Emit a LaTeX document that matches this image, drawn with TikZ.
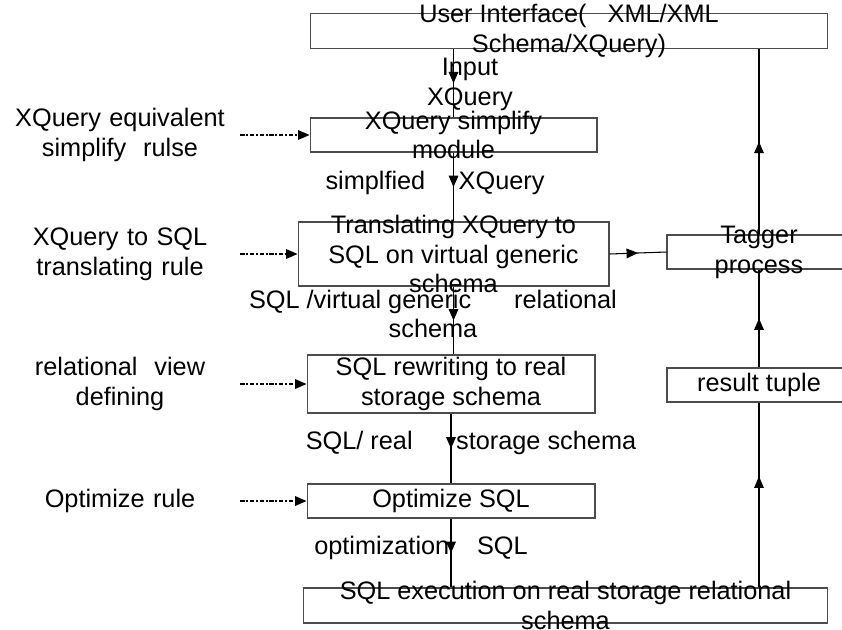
\documentclass[tikz,border=0pt]{standalone}
\usepackage{fontspec}
\setmainfont{Liberation Sans}
\usetikzlibrary{arrows.meta}
\usetikzlibrary{decorations.markings}

\begin{document}
\begin{tikzpicture}[x=0.02cm, y=-0.02cm,
  box/.style={draw=black!70, line width=0.6pt, inner sep=0pt},
  txt/.style={align=center, inner sep=0pt, font=\fontsize{14.4}{17}\selectfont},
  midarrow/.style={postaction={decorate}, decoration={markings,
    mark=at position #1 with {\arrow{Triangle[length=6.5pt,width=5.5pt]}}}},
  midarrow/.default=0.5,
  flow/.style={draw=black, line width=0.6pt},
  rulearrow/.style={draw=black, line width=0.6pt,
    dash pattern=on 2.5pt off 1pt on 1pt off 1pt,
    -{Triangle[length=6.5pt,width=5.5pt]}}]
\clip (0,0) rectangle (842,629);
% Boxes
\node[box, minimum width=10.36cm, minimum height=0.70cm] (ui) at (569,31) {};
\node[box, minimum width=5.74cm, minimum height=0.68cm] (simp) at (453.5,135) {};
\node[box, minimum width=6.22cm, minimum height=1.28cm] (trans) at (453.5,254) {};
\node[box, minimum width=5.76cm, minimum height=1.16cm] (rewr) at (451,384) {};
\node[box, minimum width=5.76cm, minimum height=0.68cm] (opt) at (451,501) {};
\node[box, minimum width=10.5cm, minimum height=0.70cm] (exec) at (565.5,605.5) {};
\node[box, minimum width=3.68cm, minimum height=0.68cm] (tag) at (759,252) {};
\node[box, minimum width=3.68cm, minimum height=0.68cm] (res) at (759,385) {};
% Box texts
\node[txt] (ui-t) at (ui) {User Interface(\ \ \ XML/XML\\Schema/XQuery)};
\node[txt] (simp-t) at (simp) {XQuery simplify\\module};
\node[txt] (trans-t) at (trans) {Translating XQuery to\\SQL on virtual generic\\schema};
\node[txt] (rewr-t) at (rewr) {SQL rewriting to real\\storage schema};
\node[txt] (opt-t) at (opt) {Optimize SQL};
\node[txt] (exec-t) at (exec) {SQL execution on real storage relational\\schema};
\node[txt] (tag-t) at (tag) {Tagger\\process};
\node[txt] (res-t) at (res) {result tuple};
% Rules
\node[txt, text width=4.8cm] (r1) at (120,135) {XQuery equivalent\\simplify\ \ rulse};
\node[txt, text width=4.8cm] (r2) at (120,254) {XQuery to SQL\\translating rule};
\node[txt, text width=4.8cm] (r3) at (120,384) {relational\ \ view\\defining};
\node[txt, text width=4.8cm] (r4) at (120,501) {Optimize rule};
\draw[rulearrow] (r1.east) -- (simp.west);
\draw[rulearrow] (r2.east) -- (trans.west);
\draw[rulearrow] (r3.east) -- (rewr.west);
\draw[rulearrow] (r4.east) -- (opt.west);
% Flow labels
\node[txt] (l1) at (470,84) {Input\\XQuery};
\node[txt] (l2) at (435,183) {simplfied\hspace{1.32em}XQuery};
\node[txt] (l3) at (433,314) {SQL /virtual generic\hspace{1.7em}relational\\schema};
\node[txt] (l4) at (471,443) {SQL/ real\hspace{1.72em}storage schema};
\node[txt] (l5) at (421,548) {optimization\hspace{1.1em}SQL};
% Down flow
\draw[flow, midarrow] (ui.south -| simp.north) -- (simp.north);
\draw[flow, midarrow] (simp.south) -- (trans.north);
\draw[flow, midarrow] (trans.south) -- (trans.south |- rewr.north);
\draw[flow, midarrow] (rewr.south) -- (opt.north);
\draw[flow, midarrow] (opt.south) -- (opt.south |- exec.north);
% Back up
\draw[flow, midarrow] (trans.east) -- (tag.west);
\draw[flow, midarrow=0.6] (exec.north -| res.south) -- (res.south);
\draw[flow, midarrow] (res.north) -- (tag.south);
\draw[flow, midarrow] (tag.north) -- (tag.north |- ui.south);
\end{tikzpicture}
\end{document}
